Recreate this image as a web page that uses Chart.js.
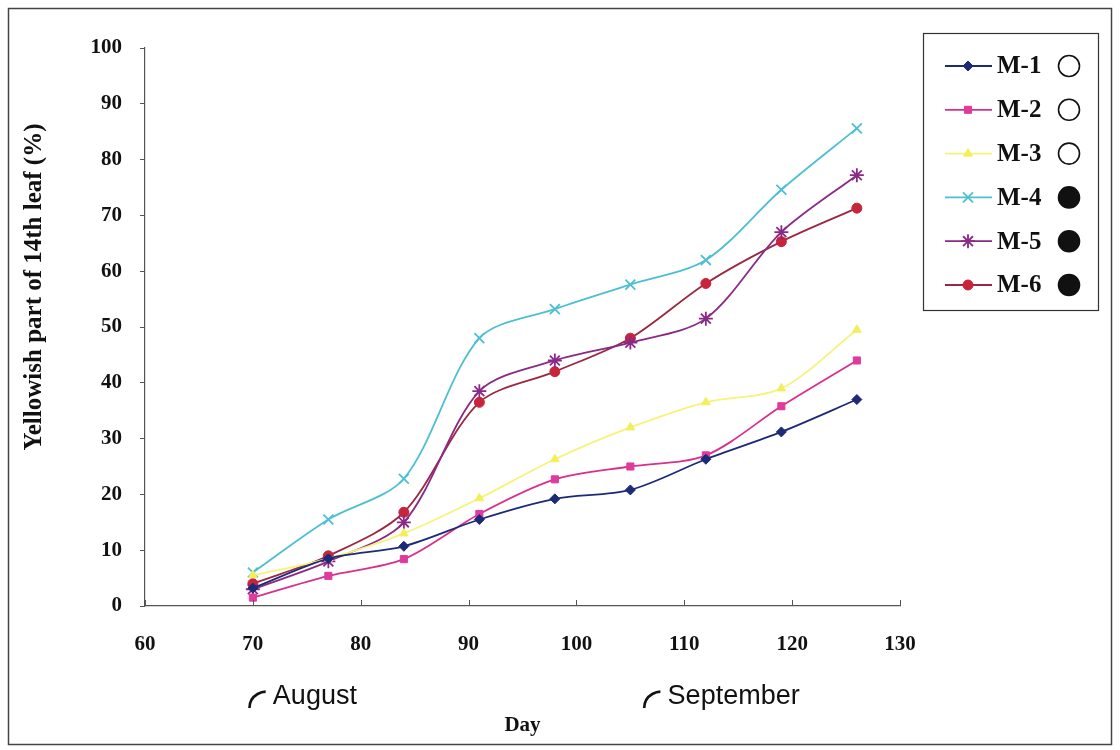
<!DOCTYPE html>
<html><head><meta charset="utf-8">
<script src="https://cdn.jsdelivr.net/npm/chart.js@4.4.1/dist/chart.umd.min.js"></script>
<style>html,body{margin:0;padding:0;background:#fff}#wrap{width:1120px;height:750px;position:relative}</style>
</head><body><div id="wrap"><canvas id="c" width="1120" height="750"></canvas></div>
<script>
const days = [70, 77, 84, 91, 98, 105, 112, 119, 126];
const seriesNames = ['M-1', 'M-2', 'M-3', 'M-4', 'M-5', 'M-6'];
const seriesFilled = [false, false, false, true, true, true];
const m1 = [3.2, 8.5, 10.7, 15.5, 19.2, 20.8, 26.3, 31.2, 37.0];
const m2 = [1.5, 5.4, 8.4, 16.5, 22.7, 25.0, 27.0, 35.8, 44.0];
const m3 = [5.5, 8.5, 13.0, 19.3, 26.3, 32.0, 36.5, 39.0, 49.5];
const m4 = [6.0, 15.5, 22.8, 48.0, 53.2, 57.6, 62.0, 74.6, 85.6];
const m5 = [3.0, 8.0, 15.0, 38.5, 44.0, 47.2, 51.5, 67.0, 77.2];
const m6 = [4.0, 9.0, 16.8, 36.5, 42.0, 48.0, 57.8, 65.3, 71.3];
const xTicks = [60, 70, 80, 90, 100, 110, 120, 130];
const yTicks = [0, 10, 20, 30, 40, 50, 60, 70, 80, 90, 100];
const monthLabels = [{day: 70, text: 'August'}, {day: 106.6, text: 'September'}];
const monthMark = '◜';
const yTitle = 'Yellowish part of 14th leaf (%)';

const values = [m1, m2, m3, m4, m5, m6];
const lineColors = ['#1c2a78', '#d8308f', '#f6f37a', '#4dbfd2', '#8a2a86', '#9a2840'];
const markColors = ['#1c2a78', '#e03a9a', '#f3ef5a', '#4dbfd2', '#8a2a86', '#c8243a'];
const styles = ['rectRot', 'rect', 'triangle', 'crossRot', 'star', 'circle'];
const radii = [5, 5, 5, 7, 7, 5];

const datasets = seriesNames.map((n, i) => ({
  label: n,
  data: days.map((d, j) => ({x: d, y: values[i][j]})),
  borderColor: lineColors[i],
  backgroundColor: markColors[i],
  pointBorderColor: markColors[i],
  pointBackgroundColor: markColors[i],
  pointStyle: styles[i],
  pointRadius: radii[i],
  pointBorderWidth: (styles[i] === 'crossRot' || styles[i] === 'star') ? 1.8 : 1,
  borderWidth: 1.8,
  tension: 0.3,
  fill: false
}));

const serif = '"Liberation Serif", "Times New Roman", serif';

const decor = {
  id: 'decor',
  beforeDraw(chart) {
    const ctx = chart.ctx;
    ctx.save();
    ctx.fillStyle = '#fff';
    ctx.fillRect(0, 0, chart.width, chart.height);
    ctx.strokeStyle = '#444';
    ctx.lineWidth = 1.5;
    ctx.strokeRect(8.5, 8.5, 1103, 736);
    ctx.restore();
  },
  afterDraw(chart) {
    const ctx = chart.ctx;
    const xs = chart.scales.x, ys = chart.scales.y;
    ctx.save();
    // inside ticks on x axis
    ctx.strokeStyle = '#555';
    ctx.lineWidth = 1;
    xTicks.forEach(t => {
      const px = Math.round(xs.getPixelForValue(t)) + 0.5;
      ctx.beginPath(); ctx.moveTo(px, ys.bottom); ctx.lineTo(px, ys.bottom - 6); ctx.stroke();
    });
    // y axis title
    ctx.save();
    ctx.translate(35, 287);
    ctx.rotate(-Math.PI / 2);
    ctx.fillStyle = '#111';
    ctx.font = 'bold 25px ' + serif;
    ctx.textAlign = 'center';
    ctx.textBaseline = 'middle';
    ctx.fillText(yTitle, 0, 0);
    ctx.restore();
    // month labels
    ctx.fillStyle = '#111';
    ctx.textBaseline = 'middle';
    monthLabels.forEach(m => {
      const px = xs.getPixelForValue(m.day);
      ctx.font = 'bold 46px "DejaVu Sans", sans-serif';
      ctx.textAlign = 'center';
      ctx.fillText(monthMark, px + 4, 708);
      ctx.textAlign = 'left';
      ctx.font = '27px "Liberation Sans", sans-serif';
      ctx.fillText(m.text, px + 20, 697);
    });
    // legend box
    const bx = 923, by = 33, bw = 175, bh = 277;
    ctx.strokeStyle = '#333';
    ctx.lineWidth = 1.2;
    ctx.strokeRect(bx + 0.5, by + 0.5, bw, bh);
    chart.data.datasets.forEach((ds, i) => {
      const y = 66 + i * 43.8;
      ctx.strokeStyle = ds.borderColor;
      ctx.lineWidth = 1.8;
      ctx.beginPath(); ctx.moveTo(945, y); ctx.lineTo(992, y); ctx.stroke();
      ctx.fillStyle = ds.pointBackgroundColor;
      ctx.strokeStyle = ds.pointBorderColor;
      ctx.lineWidth = ds.pointBorderWidth;
      Chart.helpers.drawPoint(ctx, {pointStyle: ds.pointStyle, radius: ds.pointRadius, borderWidth: ds.pointBorderWidth, rotation: 0}, 968, y);
      ctx.fillStyle = '#111';
      ctx.font = 'bold 25px ' + serif;
      ctx.textAlign = 'left';
      ctx.textBaseline = 'middle';
      ctx.fillText(ds.label, 997, y + 1);
      ctx.beginPath();
      ctx.arc(1069, y, 10.5, 0, Math.PI * 2);
      ctx.strokeStyle = '#111';
      ctx.lineWidth = 1.6;
      if (seriesFilled[i]) { ctx.fillStyle = '#111'; ctx.fill(); }
      ctx.stroke();
    });
    ctx.restore();
  }
};

new Chart(document.getElementById('c'), {
  type: 'line',
  data: {datasets},
  options: {
    responsive: false,
    animation: false,
    layout: {padding: {left: 0, right: 220, top: 48, bottom: 12}},
    plugins: {legend: {display: false}, tooltip: {enabled: false}},
    scales: {
      x: {
        type: 'linear', min: 60, max: 130,
        afterBuildTicks: s => { s.ticks = xTicks.map(v => ({value: v})); },
        afterFit: s => { s.height = 132; },
        grid: {display: true, drawOnChartArea: false, drawTicks: false},
        border: {display: true, color: '#555', width: 1.2},
        ticks: {color: '#111', padding: 26, maxRotation: 0, font: {family: serif, size: 21, weight: 'bold'}},
        title: {display: true, text: 'Day', color: '#111', font: {family: serif, size: 21, weight: 'bold'}, padding: {top: 0, bottom: 0}}
      },
      y: {
        type: 'linear', min: 0, max: 100,
        afterBuildTicks: s => { s.ticks = yTicks.map(v => ({value: v})); },
        afterFit: s => { s.width = 145; },
        grid: {display: true, drawOnChartArea: false, drawTicks: true, tickLength: 5, color: '#555'},
        border: {display: true, color: '#555', width: 1.2},
        ticks: {color: '#111', padding: 18, font: {family: serif, size: 21, weight: 'bold'}},
        title: {display: false}
      }
    }
  },
  plugins: [decor]
});
</script></body></html>
